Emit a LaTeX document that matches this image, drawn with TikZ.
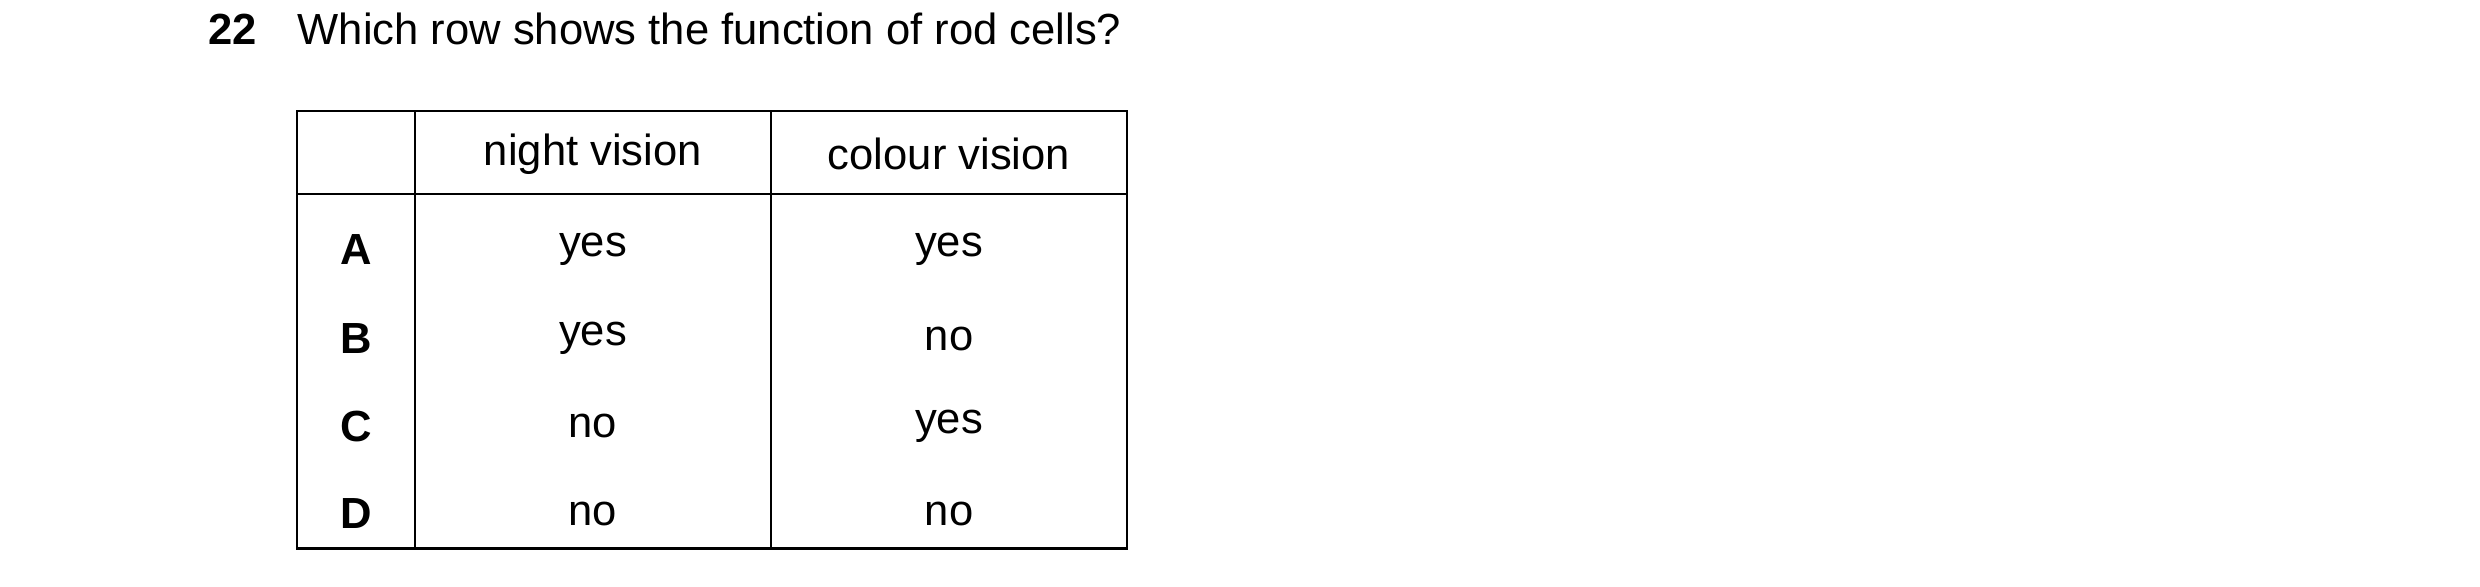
\documentclass[tikz,border=0pt]{standalone}
\usepackage{fontspec}
\setmainfont{Liberation Sans}
\begin{document}
\begin{tikzpicture}[x=0.1cm,y=-0.1cm,
  cell/.style={font=\fontsize{78}{94}\selectfont},
  letter/.style={font=\fontsize{78}{94}\selectfont\bfseries},
  grid/.style={line width=4pt}]
  \useasboundingbox (0,0) rectangle (1560,369);
  % question
  \node[letter,anchor=base east] (num) at (163,28) {22};
  \node[cell,anchor=base west] (q) at (186,28) {Which row shows the function of rod cells?};
  % table
  \draw[grid] (187,70) rectangle (709,345);
  \draw[grid] (187,122) -- (709,122);
  \draw[grid] (261,70) -- (261,345);
  \draw[grid] (485,70) -- (485,345);
  \node[cell] (hn) at (373,97) {night vision};
  \node[cell] (hc) at (597,97) {colour vision};
  \foreach \l/\n/\c/\y in {A/yes/yes/157,B/yes/no/213,C/no/yes/268,D/no/no/323}{
    \node[letter] (l\l) at (224,\y) {\l};
    \node[cell] (n\l) at (373,\y) {\n};
    \node[cell] (c\l) at (597,\y) {\c};
  }
\end{tikzpicture}
\end{document}
